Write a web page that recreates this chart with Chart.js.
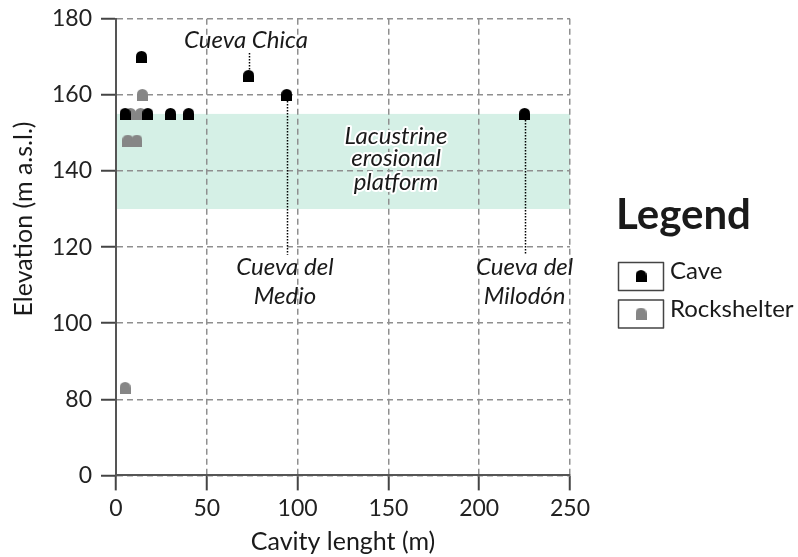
<!DOCTYPE html>
<html lang="en">
<head>
  <meta charset="UTF-8" />
  <title>Cavity length vs elevation</title>
  <script src="https://cdn.jsdelivr.net/npm/chart.js"></script>
  <style>
    html, body { margin: 0; padding: 0; background: #fff; }
    #wrap { width: 798px; height: 557px; }
  </style>
</head>
<body>
  <div id="wrap"><canvas id="chart"></canvas></div>

  <script>
    // values
    const caveLength = [5, 17.5, 30, 40, 14, 73, 94, 225];
    const caveElev = [155, 155, 155, 155, 170, 165, 160, 155];
    const shelterLength = [6.5, 11.5, 8, 13.5, 14.5, 5];
    const shelterElev = [148, 148, 155, 155, 160, 83];

    // broken y axis: the lowest tick stands for 0
    const yTickValues = [60, 80, 100, 120, 140, 160, 180];
    const yTickLabels = ['0', '80', '100', '120', '140', '160', '180'];

    // lacustrine erosional platform (m a.s.l.)
    const platformRange = [130, 155];

    const FONT = 'Lato';
    const INK = '#1a1a1a';

    // little arch marker
    function dome(color) {
      const c = document.createElement('canvas');
      c.width = 11; c.height = 12;
      const g = c.getContext('2d');
      const r = 5.5;
      g.fillStyle = color;
      g.beginPath();
      g.moveTo(0, 12);
      g.lineTo(0, r);
      g.arc(r, r, r, Math.PI, 0);
      g.lineTo(11, 12);
      g.closePath();
      g.fill();
      return c;
    }

    const toPoints = (xs, ys) => xs.map((x, i) => ({ x: x, y: ys[i] }));

    // site names hooked to their points (data units)
    const siteNotes = [
      { lines: ['Cueva Chica'], x: 71.6, y: [172.3], lead: [73, 171, 166.6] },
      { lines: ['Cueva del', 'Medio'], x: 93, y: [112.6, 105], lead: [94, 158.4, 118] },
      { lines: ['Cueva del', 'Milodón'], x: 225, y: [112.6, 105], lead: [225, 153.4, 118] }
    ];

    const extras = {
      id: 'extras',
      beforeDraw(chart) {
        const { ctx, scales: { x, y } } = chart;
        ctx.save();
        ctx.fillStyle = '#d5f0e6';
        const top = y.getPixelForValue(platformRange[1]);
        const bot = y.getPixelForValue(platformRange[0]);
        ctx.fillRect(x.getPixelForValue(0), top, x.getPixelForValue(250) - x.getPixelForValue(0), bot - top);
        ctx.restore();
      },
      afterDraw(chart) {
        const { ctx, scales: { x, y } } = chart;
        ctx.save();

        // leader lines + site names
        ctx.strokeStyle = '#000';
        ctx.lineWidth = 1.5;
        ctx.setLineDash([1.5, 1.5]);
        siteNotes.forEach(n => {
          const px = Math.round(x.getPixelForValue(n.lead[0])) + 0.5;
          ctx.beginPath();
          ctx.moveTo(px, y.getPixelForValue(n.lead[1]));
          ctx.lineTo(px, y.getPixelForValue(n.lead[2]));
          ctx.stroke();
        });
        ctx.setLineDash([]);

        ctx.fillStyle = INK;
        ctx.font = 'italic 24px ' + FONT;
        ctx.textAlign = 'center';
        ctx.textBaseline = 'alphabetic';
        siteNotes.forEach(n => {
          n.lines.forEach((t, i) => {
            ctx.fillText(t, x.getPixelForValue(n.x), y.getPixelForValue(n.y[i]));
          });
        });

        // platform label with white halo
        const lac = ['Lacustrine', 'erosional', 'platform'];
        const lacY = [147.2, 141.4, 135.1];
        ctx.lineWidth = 4;
        ctx.lineJoin = 'round';
        ctx.strokeStyle = '#fff';
        lac.forEach((t, i) => {
          const px = x.getPixelForValue(154.2), py = y.getPixelForValue(lacY[i]);
          ctx.strokeText(t, px, py);
          ctx.fillText(t, px, py);
        });

        // y axis title
        ctx.save();
        ctx.translate(24, 219);
        ctx.rotate(-Math.PI / 2);
        ctx.font = '25px ' + FONT;
        ctx.textBaseline = 'middle';
        ctx.fillText('Elevation (m a.s.l.)', 0, 0);
        ctx.restore();

        // legend
        ctx.textAlign = 'left';
        ctx.font = 'bold 42px ' + FONT;
        ctx.fillText('Legend', 616, 229);
        ctx.font = '24px ' + FONT;
        ctx.strokeStyle = '#444';
        ctx.lineWidth = 1.5;
        chart.data.datasets.forEach((ds, i) => {
          const top = 262 + i * 37.5;
          ctx.strokeRect(618.5, top + 0.5, 45, 28);
          const img = ds.pointStyle;
          ctx.drawImage(img, 641 - img.width / 2, top + 14 - img.height / 2);
          ctx.fillStyle = INK;
          ctx.fillText(ds.label, 670, top + 17);
        });

        ctx.restore();
      }
    };

    const gridGray = '#8f8f8f';

    new Chart(document.getElementById('chart'), {
      type: 'scatter',
      data: {
        datasets: [
          {
            label: 'Cave',
            data: toPoints(caveLength, caveElev),
            pointStyle: dome('#000'),
            pointRadius: 6
          },
          {
            label: 'Rockshelter',
            data: toPoints(shelterLength, shelterElev),
            pointStyle: dome('#868686'),
            pointRadius: 6
          }
        ]
      },
      options: {
        responsive: true,
        maintainAspectRatio: false,
        animation: false,
        layout: { padding: { left: 43, right: 228, top: 1, bottom: 0 } },
        plugins: {
          legend: { display: false },
          tooltip: { enabled: false }
        },
        scales: {
          x: {
            type: 'linear',
            min: 0,
            max: 250,
            ticks: {
              stepSize: 50,
              padding: 4,
              color: '#222',
              font: { family: FONT, size: 23 }
            },
            grid: {
              color: gridGray,
              lineWidth: 1.5,
              tickLength: 15,
              tickColor: '#444',
              tickWidth: 2,
              tickBorderDash: []
            },
            border: { display: true, color: '#555', width: 2, dash: [6, 4] },
            title: {
              display: true,
              text: 'Cavity lenght (m)',
              color: INK,
              font: { family: FONT, size: 25 },
              padding: { top: 1, bottom: 0 }
            }
          },
          y: {
            type: 'linear',
            min: 60,
            max: 180,
            afterBuildTicks: axis => { axis.ticks = yTickValues.map(v => ({ value: v })); },
            ticks: {
              padding: 9,
              color: '#222',
              font: { family: FONT, size: 23, lineHeight: 0.85 },
              callback: v => yTickLabels[yTickValues.indexOf(v)]
            },
            grid: {
              color: gridGray,
              lineWidth: 1.5,
              tickLength: 15,
              tickColor: '#444',
              tickWidth: 2,
              tickBorderDash: []
            },
            border: { display: true, color: '#555', width: 2, dash: [6, 4] }
          }
        }
      },
      plugins: [extras]
    });
  </script>
</body>
</html>
